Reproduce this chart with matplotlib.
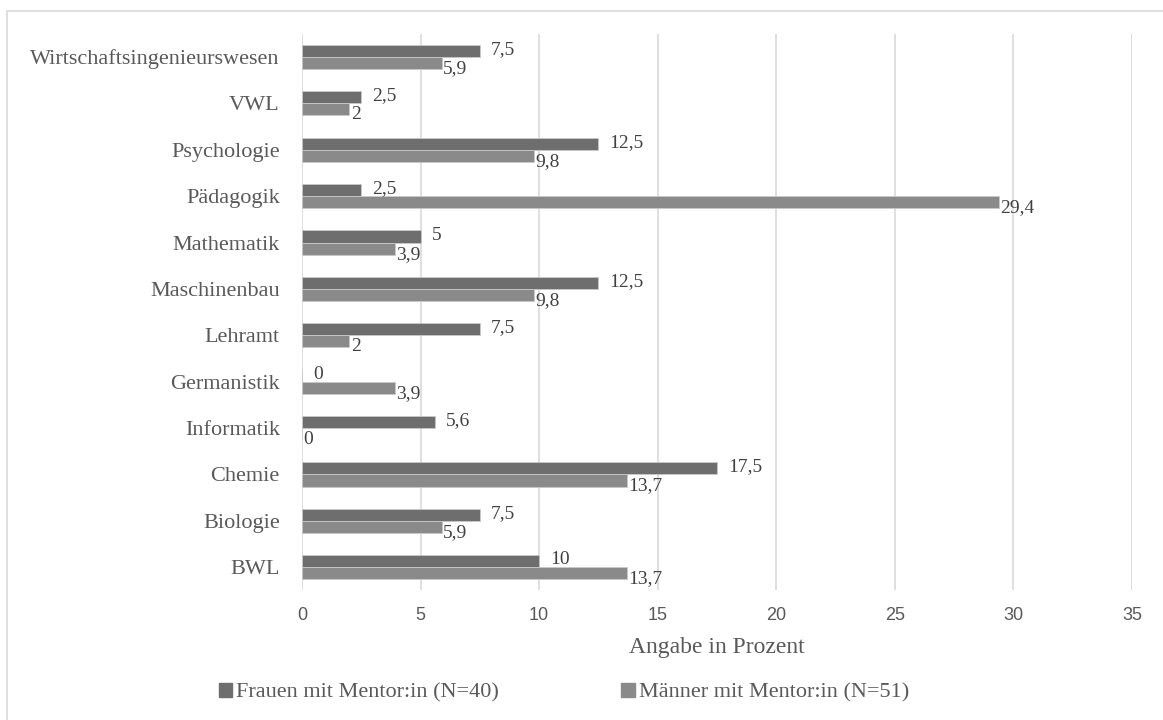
import matplotlib
matplotlib.use("Agg")
import matplotlib.pyplot as plt
from matplotlib.patches import Patch, Rectangle

# Daten (von unten nach oben wie in der Vorlage)
faecher = ["BWL", "Biologie", "Chemie", "Informatik", "Germanistik", "Lehramt",
           "Maschinenbau", "Mathematik", "Pädagogik", "Psychologie", "VWL",
           "Wirtschaftsingenieurswesen"]
frauen = [10, 7.5, 17.5, 5.6, 0, 7.5, 12.5, 5, 2.5, 12.5, 2.5, 7.5]
maenner = [13.7, 5.9, 13.7, 0, 3.9, 2, 9.8, 3.9, 29.4, 9.8, 2, 5.9]
x_ticks = [0, 5, 10, 15, 20, 25, 30, 35]

label_frauen = "Frauen mit Mentor:in (N=40)"
label_maenner = "Männer mit Mentor:in (N=51)"

COL_F = "#6e6e6e"
COL_M = "#8a8a8a"
TXT = "#595959"
SERIF = ["Liberation Serif", "DejaVu Serif"]
NARROW = ["Liberation Sans Narrow", "Liberation Sans", "DejaVu Sans"]


def fmt(v):
    return f"{v:g}".replace(".", ",")


fig = plt.figure(figsize=(11.63, 7.2), dpi=100)
ax = fig.add_axes([0.2597, 0.180, 0.7136, 0.773])

# Rahmen um das Diagramm
fig.patches.append(Rectangle((7 / 1163, -0.1), 1.2, 1 - 11 / 720 + 0.1,
                             transform=fig.transFigure, fill=False,
                             edgecolor="#d9d9d9", linewidth=1.2))

pos = list(range(len(faecher)))
h = 0.26
pos_f = [p + h / 2 for p in pos]
pos_m = [p - h / 2 for p in pos]

ax.barh(pos_f, frauen, height=h, color=COL_F, edgecolor="#c8c8c8",
        linewidth=0.6, zorder=3)
ax.barh(pos_m, maenner, height=h, color=COL_M, edgecolor="#c8c8c8",
        linewidth=0.6, zorder=3)

for y, v in zip(pos_f, frauen):
    ax.annotate(fmt(v), (v, y), xytext=(8, 1), textcoords="offset points",
                ha="left", va="center", fontsize=14, color="#404040",
                family=SERIF, zorder=4)
for y, v in zip(pos_m, maenner):
    ax.annotate(fmt(v), (v, y), xytext=(1, -4), textcoords="offset points",
                ha="left", va="center", fontsize=14, color="#404040",
                family=SERIF, zorder=4)

ax.set_xlim(0, 35)
ax.set_ylim(-0.5, len(faecher) - 0.5)
ax.set_xticks(x_ticks)
ax.set_xticklabels([str(t) for t in x_ticks], family=NARROW, fontsize=13,
                   color=TXT)
ax.set_yticks(pos)
ax.set_yticklabels(faecher, family=SERIF, fontsize=16, color=TXT)
ax.tick_params(axis="x", length=0, pad=12)
ax.tick_params(axis="y", length=0, pad=16)

ax.grid(axis="x", color="#d9d9d9", linewidth=1.2, zorder=0)
for s in ax.spines.values():
    s.set_visible(False)

ax.set_xlabel("Angabe in Prozent", family=SERIF, fontsize=17, color=TXT,
              labelpad=9)

handles = [Patch(color=COL_F, label=label_frauen),
           Patch(color=COL_M, label=label_maenner)]
fig.legend(handles=handles, loc="center", bbox_to_anchor=(0.485, 0.038),
           ncol=2, frameon=False, handlelength=0.6, handleheight=0.6,
           handletextpad=0.2, columnspacing=5.5,
           prop={"family": SERIF, "size": 16}, labelcolor=TXT)

fig.savefig("out.png", dpi=100)
